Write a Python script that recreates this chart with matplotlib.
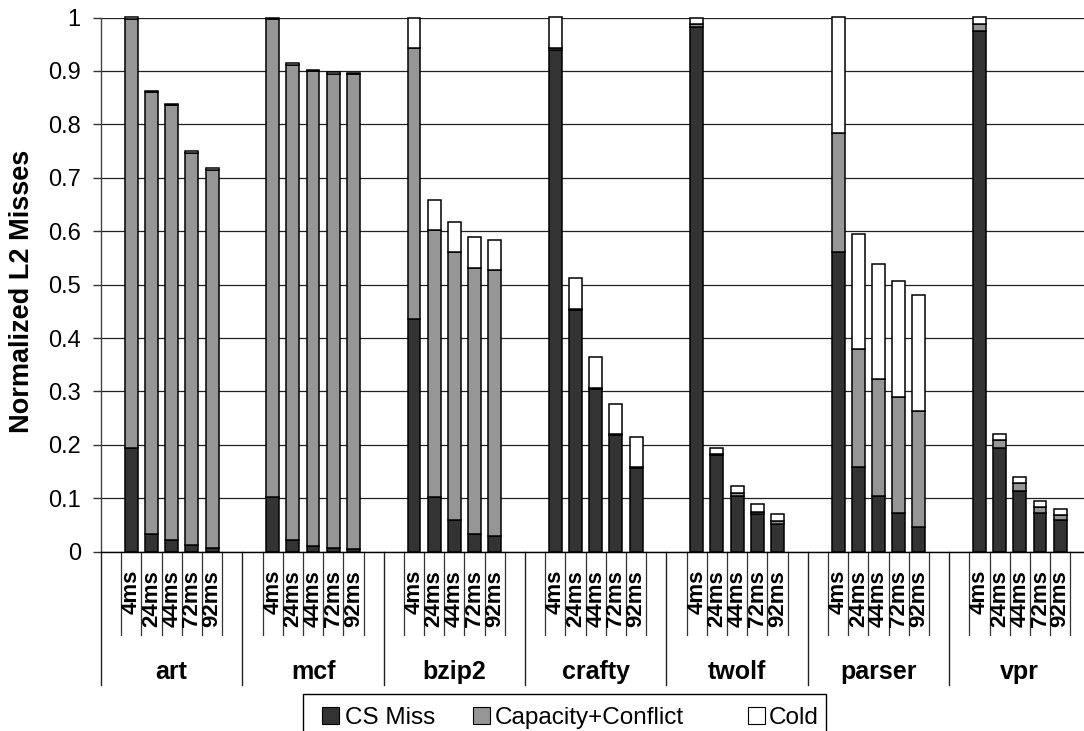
import matplotlib
matplotlib.use("Agg")
import matplotlib.pyplot as plt
from matplotlib.patches import Rectangle
from matplotlib import transforms

plt.rcParams['font.family'] = ['Liberation Sans', 'DejaVu Sans']

# ---- data ----
groups = ['art', 'mcf', 'bzip2', 'crafty', 'twolf', 'parser', 'vpr']
intervals = ['4ms', '24ms', '44ms', '72ms', '92ms']
series_names = ['CS Miss', 'Capacity+Conflict', 'Cold']

cs_miss = [
    [0.195, 0.034, 0.021, 0.012, 0.006],   # art
    [0.102, 0.021, 0.010, 0.007, 0.005],   # mcf
    [0.435, 0.103, 0.059, 0.033, 0.030],   # bzip2
    [0.940, 0.453, 0.305, 0.219, 0.157],   # crafty
    [0.982, 0.181, 0.104, 0.070, 0.051],   # twolf
    [0.561, 0.159, 0.105, 0.072, 0.047],   # parser
    [0.974, 0.195, 0.113, 0.072, 0.059],   # vpr
]
capacity_conflict = [
    [0.802, 0.826, 0.815, 0.735, 0.709],
    [0.895, 0.891, 0.889, 0.888, 0.889],
    [0.508, 0.499, 0.502, 0.499, 0.498],
    [0.003, 0.002, 0.002, 0.002, 0.002],
    [0.005, 0.002, 0.005, 0.005, 0.006],
    [0.222, 0.221, 0.218, 0.218, 0.217],
    [0.014, 0.015, 0.015, 0.011, 0.010],
]
cold = [
    [0.003, 0.003, 0.003, 0.003, 0.003],
    [0.003, 0.003, 0.003, 0.003, 0.003],
    [0.057, 0.056, 0.056, 0.057, 0.056],
    [0.057, 0.057, 0.057, 0.056, 0.056],
    [0.013, 0.012, 0.014, 0.014, 0.013],
    [0.217, 0.215, 0.216, 0.216, 0.216],
    [0.012, 0.011, 0.012, 0.011, 0.010],
]
yticks = [0, 0.1, 0.2, 0.3, 0.4, 0.5, 0.6, 0.7, 0.8, 0.9, 1]
ytick_labels = ['0', '0.1', '0.2', '0.3', '0.4', '0.5', '0.6', '0.7', '0.8', '0.9', '1']

colors = ['#333333', '#969696', '#ffffff']

# ---- layout ----
W, H = 1084, 731
fig = plt.figure(figsize=(W / 100, H / 100), dpi=100)
ax_left, ax_right = 101, 1090.5
ax_y0, ax_y1 = 551.7, 17.5
ax = fig.add_axes([ax_left / W, (H - ax_y0) / H, (ax_right - ax_left) / W, (ax_y0 - ax_y1) / H])
ax_h_px = ax_y0 - ax_y1

slots = 7
n_groups = len(groups)
bar_w = 0.64

for g in range(n_groups):
    xs = [slots * g + 1 + j + 0.5 for j in range(len(intervals))]
    bottoms = [0.0] * len(intervals)
    for series, col in zip([cs_miss, capacity_conflict, cold], colors):
        vals = series[g]
        bars = ax.bar(xs, vals, width=bar_w, bottom=bottoms, color=col,
                      edgecolor='black', linewidth=1.1, zorder=3)
        for b in bars:
            b.set_clip_on(False)
        bottoms = [b + v for b, v in zip(bottoms, vals)]

ax.set_xlim(0, slots * n_groups)
ax.set_ylim(0, 1)
ax.set_xticks([])
ax.set_yticks(yticks)
ax.set_yticklabels(ytick_labels, fontsize=17)
ax.tick_params(axis='y', length=6, width=1, color='#333333', pad=8.5)
ax.yaxis.grid(True, color='#222222', linewidth=0.9, zorder=0)
ax.set_axisbelow(True)
for s in ['top', 'right']:
    ax.spines[s].set_visible(False)
ax.spines['left'].set_color('#444444')
ax.spines['left'].set_linewidth(1.0)
ax.spines['bottom'].set_color('black')
ax.spines['bottom'].set_linewidth(1.0)
ax.spines['bottom'].set_zorder(4)

trans = transforms.blended_transform_factory(ax.transData, ax.transAxes)
tick_depth = -(635 - ax_y0) / ax_h_px
div_depth = -(685 - ax_y0) / ax_h_px
label_top = -(570 - ax_y0) / ax_h_px
group_y = -(671.7 - ax_y0) / ax_h_px

for g in range(n_groups):
    x0 = slots * g
    ax.plot([x0, x0], [0, div_depth], color='#222222', lw=1.0, transform=trans, clip_on=False)
    for k in range(1, slots):
        ax.plot([x0 + k, x0 + k], [0, tick_depth], color='#333333', lw=0.9,
                transform=trans, clip_on=False)
    for j, lab in enumerate(intervals):
        ax.text(x0 + 1 + j + 0.5, label_top, lab, rotation=90, ha='center', va='top',
                fontsize=16, fontweight='bold', transform=trans, clip_on=False)
    ax.text(x0 + slots / 2, group_y, groups[g], ha='center', va='center',
            fontsize=18, fontweight='bold', transform=trans, clip_on=False)

fig.text(22 / W, 1 - ((ax_y0 + ax_y1) / 2 + 7) / H, 'Normalized L2 Misses', rotation=90,
         ha='center', va='center', fontsize=19.5, fontweight='bold')

# ---- legend (drawn in figure pixels, top-left origin) ----
def fx(px):
    return px / W

def fy(py):
    return 1 - py / H

leg_left, leg_right, leg_top, leg_bottom = 303, 826, 694, 740
fig.patches.append(Rectangle((fx(leg_left), fy(leg_bottom)), fx(leg_right) - fx(leg_left),
                             fy(leg_top) - fy(leg_bottom), transform=fig.transFigure,
                             facecolor='white', edgecolor='black', linewidth=1.0, zorder=5))
sq = 17
entry_x = [322, 473, 748]
text_x = [345, 495, 769]
row_c = 715.5
for ex, tx, col, name in zip(entry_x, text_x, colors, series_names):
    fig.patches.append(Rectangle((fx(ex), fy(row_c + sq / 2)), sq / W, sq / H,
                                 transform=fig.transFigure, facecolor=col,
                                 edgecolor='black', linewidth=0.8, zorder=6))
    fig.text(fx(tx), fy(row_c), name, ha='left', va='center_baseline', fontsize=17.5, zorder=6)

fig.savefig('out.png', dpi=100)
